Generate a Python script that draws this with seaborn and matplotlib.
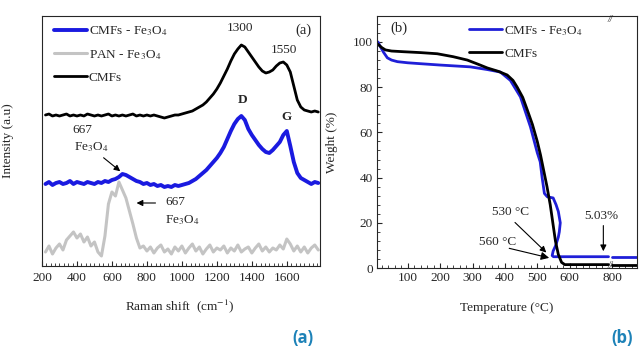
import matplotlib.pyplot as plt
import matplotlib.ticker as mticker
import numpy as np
import pandas as pd
import seaborn as sns

sns.set_style('ticks')
plt.rcParams['font.family'] = ['Liberation Serif', 'DejaVu Serif']
plt.rcParams['mathtext.fontset'] = 'stix'

# (a) Raman spectra, stacked with offsets (arbitrary units)
shift = np.arange(220, 1781, 20)
cmf_fe = [82, 84, 81, 83, 84, 82, 83, 85, 82, 84,
          83, 82, 84, 83, 82, 84, 83, 85, 84, 86,
          87, 89, 92, 91, 89, 87, 85, 84, 82, 83,
          81, 82, 80, 81, 79, 80, 79, 81, 80, 81,
          82, 83, 85, 87, 90, 93, 96, 100, 104, 108,
          113, 119, 127, 135, 142, 147, 150, 146, 137, 131,
          126, 121, 117, 114, 113, 116, 120, 124, 131, 135,
          120, 104, 93, 88, 86, 84, 82, 84, 83]
pan_fe = [14, 20, 12, 18, 22, 16, 26, 30, 34, 28,
          32, 24, 29, 20, 24, 14, 10, 30, 62, 74,
          70, 84, 76, 68, 55, 42, 28, 18, 20, 15,
          19, 13, 18, 21, 14, 17, 12, 19, 15, 20,
          13, 18, 22, 15, 19, 12, 17, 21, 14, 18,
          16, 20, 13, 18, 15, 21, 14, 17, 19, 13,
          18, 22, 15, 19, 14, 18, 16, 21, 17, 27,
          22, 15, 20, 14, 19, 13, 18, 21, 16]
cmf = [151, 152, 150, 151, 150, 151, 152, 150, 151, 150,
       151, 150, 152, 151, 150, 151, 150, 151, 152, 150,
       151, 150, 151, 150, 151, 152, 150, 151, 150, 151,
       150, 151, 150, 149, 148, 149, 150, 151, 151, 152,
       153, 154, 155, 157, 159, 161, 164, 168, 172, 177,
       183, 190, 197, 205, 212, 217, 221, 219, 214, 209,
       204, 199, 195, 193, 194, 196, 200, 203, 204, 201,
       194, 180, 166, 159, 156, 155, 154, 155, 154]

# (b) TGA curves; the temperature axis is broken between 720 and 800 °C
temp_fe = [8, 15, 25, 37, 50, 68, 100, 139, 200, 293, 346, 386, 417, 448, 479,
           500, 509, 515, 522, 531, 549, 558, 565, 571, 568, 565, 557, 549, 546,
           550, 600, 650, 700, 720, 800, 876]
wt_fe = [100, 98, 95.5, 93, 92, 91.3, 90.8, 90.4, 89.8, 89, 87.8, 86.7, 83, 75.7, 62.4,
         51, 47, 40, 33, 31.5, 31, 28, 25, 20, 16, 13.7, 10, 7.5, 5.5,
         5, 5, 5, 5, 5, 5, 5]
temp_cmf = [8, 20, 31, 50, 86, 140, 191, 240, 284, 320, 346, 380, 407, 425, 438,
            455, 469, 485, 500, 510, 520, 530, 540, 548, 556, 565, 575, 585,
            650, 720, 800, 876]
wt_cmf = [99, 97.5, 96.5, 96, 95.7, 95.3, 94.8, 93.5, 92, 90, 88.5, 87, 85.4, 83, 80,
          75.5, 70, 63.5, 56, 50, 43, 36, 28, 20, 12, 6, 2.5, 1.5,
          1.5, 1.5, 1.5, 1.5]

lab_fe = 'CMFs - Fe$_3$O$_4$'
lab_pan = 'PAN - Fe$_3$O$_4$'
lab_cmf = 'CMFs'

raman = pd.DataFrame({
    'shift': np.concatenate([shift, shift, shift]),
    'intensity': cmf_fe + pan_fe + cmf,
    'sample': [lab_fe] * len(shift) + [lab_pan] * len(shift) + [lab_cmf] * len(shift),
})
tga = pd.DataFrame({
    'temp': temp_fe + temp_cmf,
    'weight': wt_fe + wt_cmf,
    'sample': [lab_fe] * len(temp_fe) + [lab_cmf] * len(temp_cmf),
})
tga['part'] = np.where(tga['temp'] > 760, 1, 0)

fig = plt.figure(figsize=(6.43, 3.54), dpi=100)
ax1 = fig.add_axes([0.0653, 0.2486, 0.4324, 0.7062])
ax2 = fig.add_axes([0.5863, 0.2429, 0.4044, 0.7119])

# ---- (a) Raman
sns.lineplot(data=raman, x='shift', y='intensity', hue='sample', size='sample',
             hue_order=[lab_fe, lab_pan, lab_cmf],
             palette={lab_fe: '#1a1ae0', lab_pan: '#c4c4c4', lab_cmf: 'black'},
             sizes={lab_fe: 2.8, lab_pan: 2.2, lab_cmf: 2.0},
             estimator=None, ax=ax1)
ax1.set_xlim(200, 1790)
ax1.set_ylim(0, 250)
ax1.set_xticks([200, 400, 600, 800, 1000, 1200, 1400, 1600])
ax1.xaxis.set_minor_locator(mticker.MultipleLocator(25))
ax1.set_yticks([])
ax1.tick_params(axis='x', which='major', direction='in', length=3.5, labelsize=9.5, pad=4)
ax1.tick_params(axis='x', which='minor', direction='in', length=2)
ax1.set_xlabel('Raman shift  (cm$^{-1}$)', fontsize=9.5)
ax1.set_ylabel('Intensity (a.u)', fontsize=9.5)
ax1.xaxis.set_label_coords(0.496, -0.125)
ax1.yaxis.set_label_coords(-0.10, 0.5)
sns.move_legend(ax1, 'upper left', bbox_to_anchor=(0.0, 1.015), frameon=False, title=None,
                fontsize=9.5, handlelength=2.5, handletextpad=0.15, labelspacing=0.75)

ax1.text(1743, 236, '(a)', ha='right', va='center', fontsize=10.5)
ax1.text(1332, 238, '1300', ha='center', va='center', fontsize=9.5)
ax1.text(1585, 216, '1550', ha='center', va='center', fontsize=9.5)
ax1.text(1345, 166, 'D', ha='center', va='center', fontsize=9.5, fontweight='bold')
ax1.text(1600, 149, 'G', ha='center', va='center', fontsize=9.5, fontweight='bold')
ax1.text(430, 136, '667', ha='center', va='center', fontsize=9.5)
ax1.text(480, 119, 'Fe$_3$O$_4$', ha='center', va='center', fontsize=9.5)
ax1.annotate('', xy=(660, 93), xytext=(540, 110),
             arrowprops=dict(arrowstyle='-|>', color='black', lw=0.8, mutation_scale=9))
ax1.annotate('', xy=(725, 63), xytext=(865, 63),
             arrowprops=dict(arrowstyle='-|>', color='black', lw=0.8, mutation_scale=9))
ax1.text(905, 64, '667', ha='left', va='center', fontsize=9.5)
ax1.text(905, 46, 'Fe$_3$O$_4$', ha='left', va='center', fontsize=9.5)

# ---- (b) TGA with a broken temperature axis
sns.lineplot(data=tga, x='temp', y='weight', hue='sample', units='part',
             hue_order=[lab_fe, lab_cmf],
             palette={lab_fe: '#1f1fd8', lab_cmf: 'black'},
             estimator=None, sort=False, lw=2.0, ax=ax2)


def fwd(x):
    x = np.asarray(x, dtype=float)
    return np.where(x <= 720, x, np.where(x >= 800, x - 68, 720 + (x - 720) * 0.15))


def inv(y):
    y = np.asarray(y, dtype=float)
    return np.where(y <= 720, y, np.where(y >= 732, y + 68, 720 + (y - 720) / 0.15))


ax2.set_xscale('function', functions=(fwd, inv))
ax2.set_xlim(5, 876)
ax2.set_ylim(0, 111.5)
ax2.set_xticks([100, 200, 300, 400, 500, 600, 800])
ax2.xaxis.set_major_formatter(mticker.FormatStrFormatter('%d'))
ax2.xaxis.set_minor_locator(mticker.FixedLocator(list(range(20, 720, 20)) + [820, 840, 860]))
ax2.set_yticks([0, 20, 40, 60, 80, 100])
ax2.yaxis.set_minor_locator(mticker.MultipleLocator(4))
ax2.tick_params(which='major', direction='in', length=3.5, labelsize=9.5, pad=3)
ax2.tick_params(which='minor', direction='in', length=2)
ax2.set_xlabel('Temperature (°C)', fontsize=9.5)
ax2.set_ylabel('Weight (%)', fontsize=9.5)
ax2.xaxis.set_label_coords(0.5, -0.135)
ax2.yaxis.set_label_coords(-0.15, 0.5)
sns.move_legend(ax2, 'upper left', bbox_to_anchor=(0.31, 1.015), frameon=False, title=None,
                fontsize=9.5, handlelength=2.5, handletextpad=0.15, labelspacing=0.75)

ax2.text(45, 106, '(b)', ha='left', va='center', fontsize=10.5)
ax2.annotate('', xy=(534, 6), xytext=(425, 21),
             arrowprops=dict(arrowstyle='-|>', color='black', lw=0.8, mutation_scale=9))
ax2.text(417, 25, '530 °C', ha='center', va='center', fontsize=9.5)
ax2.annotate('', xy=(545, 4.2), xytext=(405, 9),
             arrowprops=dict(arrowstyle='-|>', color='black', lw=0.8, mutation_scale=12))
ax2.text(378, 11.5, '560 °C', ha='center', va='center', fontsize=9.5)
ax2.annotate('', xy=(704, 6.2), xytext=(704, 20),
             arrowprops=dict(arrowstyle='-|>', color='black', lw=0.8, mutation_scale=9))
ax2.text(697, 23, '5.03%', ha='center', va='center', fontsize=9.5)
for yy in (0.008, 0.985):
    ax2.text(760, yy, '//', transform=ax2.get_xaxis_transform(), ha='center', va='center',
             fontsize=7, fontstyle='italic', clip_on=False)

fig.text(0.471, 0.045, '(a)', ha='center', va='center', fontsize=12,
         fontweight='bold', color='#1d82b8', family=['Open Sans', 'DejaVu Sans'])
fig.text(0.967, 0.045, '(b)', ha='center', va='center', fontsize=12,
         fontweight='bold', color='#1d82b8', family=['Open Sans', 'DejaVu Sans'])

fig.savefig('out.png', dpi=100)
